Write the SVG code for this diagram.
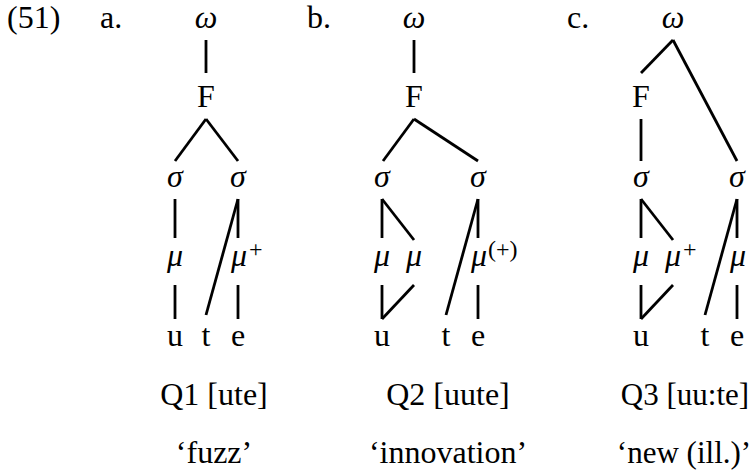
<svg xmlns="http://www.w3.org/2000/svg" width="752" height="472" viewBox="0 0 752 472">
<style>
text{font-family:"Liberation Serif","Times New Roman",serif;font-size:32px;fill:#000}
.m{font-style:italic;text-anchor:middle}
.c{text-anchor:middle}
.sup{font-size:24px;font-style:normal}
.sm{font-size:31px}
#edges line{stroke:#000;stroke-width:2.8;stroke-linecap:butt}
</style>
<rect width="752" height="472" fill="#fff"/>
<g id="labels">
<text x="7" y="28">(51)</text>
<text x="100" y="28">a.</text>
<text x="307" y="28">b.</text>
<text x="567" y="28">c.</text>
</g>
<g id="edges">
<!-- tree a -->
<line x1="206" y1="40" x2="206" y2="73"/>
<line x1="206" y1="119" x2="175" y2="161"/>
<line x1="206" y1="119" x2="238" y2="161"/>
<line x1="175" y1="199" x2="175" y2="238"/>
<line x1="238" y1="199" x2="238" y2="238"/>
<line x1="238" y1="199" x2="206" y2="315"/>
<line x1="175" y1="285" x2="175" y2="319"/>
<line x1="238" y1="285" x2="238" y2="319"/>
<!-- tree b -->
<line x1="414" y1="40" x2="414" y2="73"/>
<line x1="414" y1="119" x2="383" y2="161"/>
<line x1="414" y1="119" x2="478" y2="161"/>
<line x1="382" y1="199" x2="382" y2="238"/>
<line x1="382" y1="199" x2="414" y2="240"/>
<line x1="478" y1="199" x2="478" y2="238"/>
<line x1="478" y1="199" x2="446" y2="315"/>
<line x1="382" y1="285" x2="382" y2="319"/>
<line x1="414" y1="285" x2="382" y2="319"/>
<line x1="478" y1="285" x2="478" y2="319"/>
<!-- tree c -->
<line x1="673" y1="40" x2="641" y2="73"/>
<line x1="673" y1="40" x2="737" y2="161"/>
<line x1="641" y1="119" x2="641" y2="161"/>
<line x1="641" y1="199" x2="641" y2="238"/>
<line x1="641" y1="199" x2="673" y2="240"/>
<line x1="737" y1="199" x2="737" y2="238"/>
<line x1="737" y1="199" x2="705" y2="315"/>
<line x1="641" y1="285" x2="641" y2="319"/>
<line x1="673" y1="285" x2="641" y2="319"/>
<line x1="737" y1="285" x2="737" y2="319"/>
</g>
<!-- tree a nodes -->
<g id="a-omega"><text class="m" x="206" y="28">ω</text></g>
<g id="a-F"><text class="c" x="206" y="107">F</text></g>
<g id="a-sigma1"><text class="m" x="175" y="187">σ</text></g>
<g id="a-sigma2"><text class="m" x="238" y="187">σ</text></g>
<g id="a-mu1"><text class="m" x="175" y="266">μ</text></g>
<g id="a-mu2"><text class="m" x="239" y="266">μ</text><text class="sup" x="249" y="257">+</text></g>
<g id="a-u"><text class="c" x="175" y="346">u</text></g>
<g id="a-t"><text class="c" x="206" y="346">t</text></g>
<g id="a-e"><text class="c" x="238" y="346">e</text></g>
<g id="a-gloss"><text class="c" x="214" y="405">Q1 [ute]</text><text class="c" x="214" y="463">‘fuzz’</text></g>
<!-- tree b nodes -->
<g id="b-omega"><text class="m" x="414" y="28">ω</text></g>
<g id="b-F"><text class="c" x="414" y="107">F</text></g>
<g id="b-sigma1"><text class="m" x="382" y="187">σ</text></g>
<g id="b-sigma2"><text class="m" x="478" y="187">σ</text></g>
<g id="b-mu1"><text class="m" x="382" y="266">μ</text></g>
<g id="b-mu2"><text class="m" x="414" y="266">μ</text></g>
<g id="b-mu3"><text class="m" x="479" y="266">μ</text><text class="sup" x="488" y="257">(+)</text></g>
<g id="b-u"><text class="c" x="382" y="346">u</text></g>
<g id="b-t"><text class="c" x="446" y="346">t</text></g>
<g id="b-e"><text class="c" x="478" y="346">e</text></g>
<g id="b-gloss"><text class="c" x="448" y="405">Q2 [uute]</text><text class="c" x="448" y="463">‘innovation’</text></g>
<!-- tree c nodes -->
<g id="c-omega"><text class="m" x="673" y="28">ω</text></g>
<g id="c-F"><text class="c" x="641" y="107">F</text></g>
<g id="c-sigma1"><text class="m" x="641" y="187">σ</text></g>
<g id="c-sigma2"><text class="m" x="737" y="187">σ</text></g>
<g id="c-mu1"><text class="m" x="641" y="266">μ</text></g>
<g id="c-mu2"><text class="m" x="673" y="266">μ</text><text class="sup" x="683" y="257">+</text></g>
<g id="c-mu3"><text class="m" x="738" y="266">μ</text></g>
<g id="c-u"><text class="c" x="641" y="346">u</text></g>
<g id="c-t"><text class="c" x="705" y="346">t</text></g>
<g id="c-e"><text class="c" x="737" y="346">e</text></g>
<g id="c-gloss"><text class="c sm" x="685" y="405">Q3 [uu:te]</text><text class="c sm" x="684" y="463">‘new (ill.)’</text></g>
</svg>
